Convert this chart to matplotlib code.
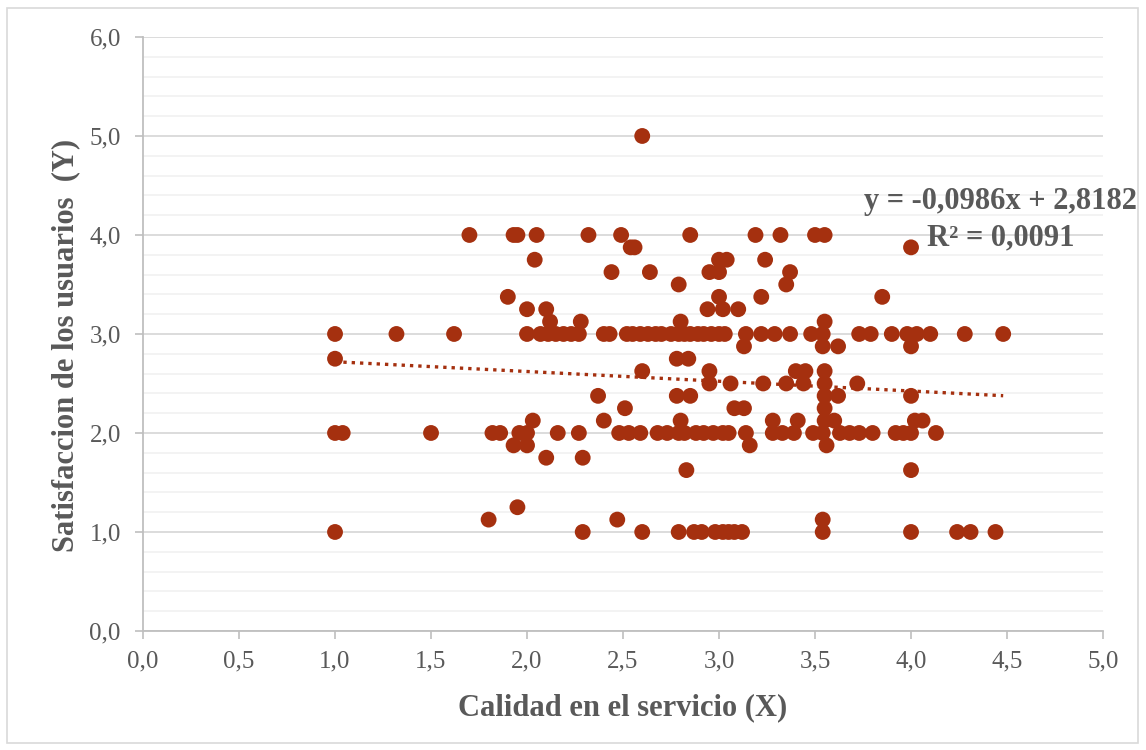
import matplotlib
matplotlib.use("Agg")
import matplotlib.pyplot as plt
from matplotlib.ticker import MultipleLocator, FuncFormatter
from matplotlib.patches import Rectangle
import numpy as np

# Survey responses: service quality (X) vs. user satisfaction (Y), grouped by Y level
y_levels = [5.0, 4.0, 3.875, 3.75, 3.625, 3.5, 3.375, 3.25, 3.125, 3.0,
            2.875, 2.75, 2.625, 2.5, 2.375, 2.25, 2.125, 2.0,
            1.875, 1.75, 1.625, 1.25, 1.125, 1.0]

x_at_level = [
    [2.60],
    [1.70, 1.93, 1.95, 2.05, 2.32, 2.49, 2.85, 3.19, 3.32, 3.50, 3.55],
    [2.54, 2.56, 4.00],
    [2.04, 3.00, 3.04, 3.24],
    [2.44, 2.64, 2.95, 3.00, 3.37],
    [2.79, 3.35],
    [1.90, 3.00, 3.22, 3.85],
    [2.00, 2.10, 2.94, 3.02, 3.10],
    [2.12, 2.28, 2.80, 3.55],
    [1.00, 1.32, 1.62, 2.00, 2.07, 2.11, 2.15, 2.19, 2.23, 2.27, 2.40, 2.43,
     2.52, 2.55, 2.59, 2.63, 2.67, 2.70, 2.75, 2.79, 2.82, 2.85, 2.89, 2.92,
     2.96, 3.00, 3.03, 3.14, 3.22, 3.29, 3.37, 3.48, 3.54, 3.73, 3.79, 3.90,
     3.98, 4.03, 4.10, 4.28, 4.48],
    [3.13, 3.54, 3.62, 4.00],
    [1.00, 2.78, 2.84],
    [2.60, 2.95, 3.40, 3.45, 3.55],
    [2.95, 3.06, 3.23, 3.35, 3.44, 3.55, 3.72],
    [2.37, 2.78, 2.85, 3.55, 3.62, 4.00],
    [2.51, 3.08, 3.13, 3.55],
    [2.03, 2.40, 2.80, 3.28, 3.41, 3.55, 3.60, 4.02, 4.06],
    [1.00, 1.04, 1.50, 1.82, 1.86, 1.96, 2.00, 2.16, 2.27, 2.48, 2.53, 2.59,
     2.68, 2.73, 2.79, 2.82, 2.88, 2.92, 2.97, 3.02, 3.05, 3.14, 3.28, 3.33,
     3.39, 3.49, 3.54, 3.63, 3.68, 3.73, 3.80, 3.92, 3.96, 4.00, 4.13],
    [1.93, 2.00, 3.16, 3.56],
    [2.10, 2.29],
    [2.83, 4.00],
    [1.95],
    [1.80, 2.47, 3.54],
    [1.00, 2.29, 2.60, 2.79, 2.87, 2.91, 2.98, 3.02, 3.05, 3.08, 3.12,
     3.54, 4.00, 4.24, 4.31, 4.44],
]

# Linear trend reported for the sample
slope = -0.0986
intercept = 2.8182
r_squared = 0.0091

x_title = "Calidad en el servicio (X)"
y_title = "Satisfaccion de los usuarios  (Y)"

xs = np.concatenate([np.array(v, dtype=float) for v in x_at_level])
ys = np.concatenate([np.full(len(v), lvl) for v, lvl in zip(x_at_level, y_levels)])

plt.rcParams["font.family"] = ["Liberation Serif", "DejaVu Serif"]

marker_color = "#A5300F"
text_gray = "#595959"

fig = plt.figure(figsize=(11.46, 7.5), dpi=100)
ax = fig.add_axes([0.1248, 0.1587, 0.8377, 0.792])

# Outer chart border
fig.patches.append(Rectangle((0.006, 0.010), 0.987, 0.979, transform=fig.transFigure,
                             fill=False, edgecolor="#D9D9D9", linewidth=1.2))

ax.set_xlim(0, 5)
ax.set_ylim(0, 6)
ax.xaxis.set_major_locator(MultipleLocator(0.5))
ax.yaxis.set_major_locator(MultipleLocator(1.0))
ax.yaxis.set_minor_locator(MultipleLocator(0.2))

fmt = FuncFormatter(lambda v, p: f"{v:.1f}".replace(".", ","))
ax.xaxis.set_major_formatter(fmt)
ax.yaxis.set_major_formatter(fmt)

ax.grid(False)
ax.yaxis.grid(True, which="major", color="#D9D9D9", linewidth=1.3, zorder=0)
ax.yaxis.grid(True, which="minor", color="#F2F2F2", linewidth=1.3, zorder=0)
ax.set_axisbelow(True)

for s in ("top", "right"):
    ax.spines[s].set_visible(False)
for s in ("left", "bottom"):
    ax.spines[s].set_color("#BFBFBF")
    ax.spines[s].set_linewidth(1.3)

ax.tick_params(axis="both", which="major", direction="out", length=6, width=1.2,
               color="#BFBFBF", labelsize=18, labelcolor=text_gray)
ax.tick_params(axis="x", which="major", pad=8)
ax.tick_params(axis="y", which="major", pad=10)
ax.tick_params(axis="y", which="minor", length=0)

ax.scatter(xs, ys, s=130, color=marker_color, edgecolors="none", zorder=3)

# Trend line across the observed range of X
xt = np.linspace(xs.min(), xs.max(), 50)
ax.plot(xt, slope * xt + intercept, color=marker_color, linewidth=2.4,
        linestyle=(0, (1, 1.5)), zorder=4)

eq = f"y = {slope:.4f}x + {intercept:.4f}".replace(".", ",")
r2 = f"R² = {r_squared:.4f}".replace(".", ",")
ax.text(4.465, 4.155, eq + "\n" + r2, ha="center", va="center", fontsize=22,
        fontweight="bold", color=text_gray, linespacing=1.3, zorder=5)

ax.set_xlabel(x_title, fontsize=22, fontweight="bold", color=text_gray, labelpad=15)
ax.set_ylabel(y_title, fontsize=22, fontweight="bold", color=text_gray)
ax.yaxis.label.set_verticalalignment("center")
ax.yaxis.set_label_coords(-0.081, 0.481)

fig.savefig("out.png", dpi=100)
